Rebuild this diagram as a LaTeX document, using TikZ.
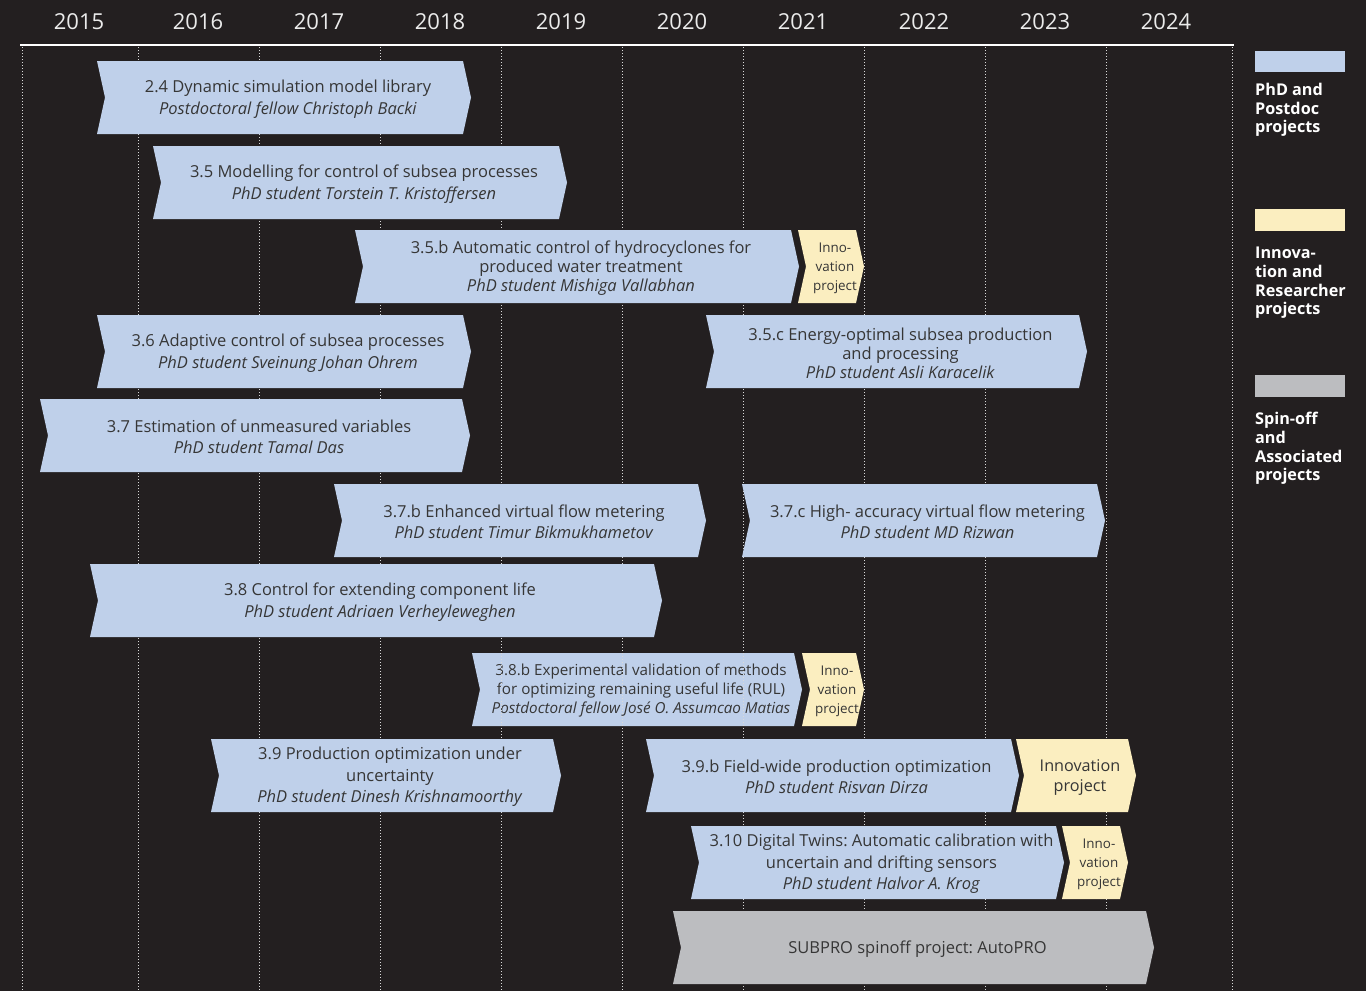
\documentclass[tikz,border=0pt]{standalone}
\usepackage{fontspec}
\setmainfont{Open Sans}
\usetikzlibrary{positioning}
\frenchspacing
\definecolor{bgDark}{HTML}{231F20}
\definecolor{phdBlue}{HTML}{BFD0EA}
\definecolor{innoYellow}{HTML}{FBEEC0}
\definecolor{spinGray}{HTML}{BCBDC0}
\definecolor{boxText}{HTML}{363636}
% #1 extra text style, #2 name, #3 left x, #4 right corner x, #5 top y, #6 fill, #7 text
\newcommand{\projbox}[7][]{%
  \fill[#6] (#3,#5) -- (#4,#5) -- ++(8,36.5) -- ++(-8,36.5) -- (#3,{#5+73}) -- ++(8,-36.5) -- cycle;
  \node[boxtext,#1] (#2) at ({(#3+#4)/2+8},{#5+38}) {#7};
}

\begin{document}
\begin{tikzpicture}[
    x=1pt, y=-1pt,
    boxtext/.style={align=center, inner sep=0pt, text=boxText, font=\fontsize{16.5}{21.5}\selectfont},
    tight/.style={font=\fontsize{16.5}{19}\selectfont},
    small/.style={font=\fontsize{15.2}{19}\selectfont},
    innosmall/.style={font=\fontsize{13.4}{19}\selectfont},
    innobig/.style={font=\fontsize{16.2}{20}\selectfont},
    gridline/.style={white!85!black, line width=0.9pt, dash pattern=on 1pt off 2pt},
    yearlabel/.style={text=white!92!black, font=\fontsize{22}{24}\selectfont, inner sep=0pt},
    legendbox/.style={minimum width=90pt, minimum height=21.5pt, inner sep=0pt},
    legendtext/.style={text=white, align=left, anchor=north west, inner sep=0pt, font=\bfseries\fontsize{16.2}{18.7}\selectfont}
  ]
    \useasboundingbox (0,0) rectangle (1366,991);
    \fill[bgDark] (0,0) rectangle (1366,991);

    % time axis
    \foreach \x/\yr in {79/2015, 198/2016, 319/2017, 440/2018, 561/2019, 682/2020, 803/2021, 924/2022, 1045/2023, 1166/2024}
      \node[yearlabel] (yr\yr) at (\x,21.5) {\yr};
    \draw[white, line width=2.5pt] (20,45) -- (1234,45);
    \foreach \x in {22,138,259,380,501,622,743,864,985,1106,1232}
      \draw[gridline] (\x,47) -- (\x,991);

    % projects
    \projbox{bx24}{97}{463}{61}{phdBlue}{2.4 Dynamic simulation model library\\ \textit{Postdoctoral fellow Christoph Backi}}
    \projbox{bx35}{153}{559}{146}{phdBlue}{3.5 Modelling for control of subsea processes\\ \textit{PhD student Torstein T. Kristoffersen}}
    \projbox[tight]{bx35b}{355}{791}{230}{phdBlue}{3.5.b Automatic control of hydrocyclones for\\ produced water treatment\\ \textit{PhD student Mishiga Vallabhan}}
    \projbox[innosmall]{in35b}{798}{856}{230}{innoYellow}{Inno-\\vation\\project}
    \projbox{bx36}{97}{463}{315}{phdBlue}{3.6 Adaptive control of subsea processes\\ \textit{PhD student Sveinung Johan Ohrem}}
    \projbox[tight]{bx35c}{706}{1079}{315}{phdBlue}{3.5.c Energy-optimal subsea production\\ and processing\\ \textit{PhD student Asli Karacelik}}
    \projbox{bx37}{40}{462}{399}{phdBlue}{3.7 Estimation of unmeasured variables\\ \textit{PhD student Tamal Das}}
    \projbox{bx37b}{334}{698}{484}{phdBlue}{3.7.b Enhanced virtual flow metering\\ \textit{PhD student Timur Bikmukhametov}}
    \projbox{bx37c}{742}{1097}{484}{phdBlue}{3.7.c High- accuracy virtual flow metering\\ \textit{PhD student MD Rizwan}}
    \projbox{bx38}{90}{654}{564}{phdBlue}{3.8 Control for extending component life\\ \textit{PhD student Adriaen Verheyleweghen}}
    \projbox[small]{bx38b}{472}{794}{653}{phdBlue}{3.8.b Experimental validation of methods\\ for optimizing remaining useful life (RUL)\\ \textit{Postdoctoral fellow José O. Assumcao Matias}}
    \projbox[innosmall]{in38b}{802}{856}{653}{innoYellow}{Inno-\\vation\\project}
    \projbox{bx39}{211}{553}{739}{phdBlue}{3.9 Production optimization under\\ uncertainty\\ \textit{PhD student Dinesh Krishnamoorthy}}
    \projbox{bx39b}{646}{1011}{739}{phdBlue}{3.9.b Field-wide production optimization\\ \textit{PhD student Risvan Dirza}}
    \projbox[innobig]{in39b}{1016}{1128}{739}{innoYellow}{Innovation\\project}
    \projbox{bx310}{691}{1056}{826}{phdBlue}{3.10 Digital Twins: Automatic calibration with\\ uncertain and drifting sensors\\ \textit{PhD student Halvor A. Krog}}
    \projbox[innosmall]{in310}{1062}{1120}{826}{innoYellow}{Inno-\\vation\\project}
    \projbox{spin}{673}{1146}{911}{spinGray}{SUBPRO spinoff project: AutoPRO}

    % grid shows through 3.8.b
    \begin{scope}
      \clip (472,653) rectangle (802,726);
      \foreach \x in {501,622,743}
        \draw[gridline] (\x,647) -- (\x,730);
    \end{scope}

    % legend
    \node[legendbox, fill=phdBlue] (legPhd) at (1300,61.5) {};
    \node[legendtext] (legPhdTxt) at (1255,83) {PhD and\\Postdoc\\projects};
    \node[legendbox, fill=innoYellow] (legInno) at (1300,220) {};
    \node[legendtext] (legInnoTxt) at (1255,247) {Innova-\\tion and\\Researcher\\projects};
    \node[legendbox, fill=spinGray] (legSpin) at (1300,386) {};
    \node[legendtext] (legSpinTxt) at (1255,412) {Spin-off\\and\\Associated\\projects};
  \end{tikzpicture}
\end{document}
